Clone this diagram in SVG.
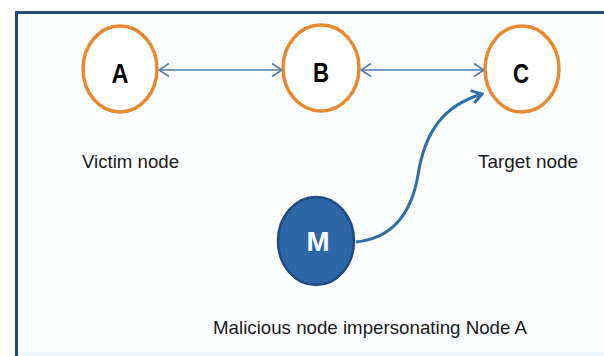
<svg xmlns="http://www.w3.org/2000/svg" width="604" height="356" viewBox="0 0 604 356">
  <defs>
    <marker id="chev" viewBox="0 0 12 14" refX="11" refY="7" markerWidth="12" markerHeight="14" markerUnits="userSpaceOnUse" orient="auto-start-reverse">
      <path d="M1,0.5 L11,7 L1,13.5" fill="none" stroke="#4a7db3" stroke-width="1.7"/>
    </marker>
    <marker id="chevBold" viewBox="0 0 14 16" refX="12" refY="8" markerWidth="14" markerHeight="16" markerUnits="userSpaceOnUse" orient="auto">
      <path d="M2,1.5 L12,8 L2,14.5" fill="none" stroke="#2f6eab" stroke-width="3"/>
    </marker>
  </defs>
  <style>
    .peer { fill: #ffffff; stroke: #e8892f; stroke-width: 3.5; }
    .rogue { fill: #2e67a8; stroke: #1f4b80; stroke-width: 2.5; }
    .letter { font-family: "Liberation Sans", Arial, sans-serif; font-weight: bold; font-size: 28px; text-anchor: middle; }
    .label { font-family: "Liberation Sans", Arial, sans-serif; font-size: 19px; fill: #1a1a1a; }
    .link { fill: none; stroke: #4a7db3; stroke-width: 1.7; }
    .attack { fill: none; stroke: #2f6eab; stroke-width: 3; }
  </style>

  <!-- page background and frame -->
  <rect x="0" y="0" width="604" height="356" fill="#ffffff"/>
  <rect x="16.5" y="12.5" width="600" height="360" fill="#fbfdfe" stroke="#23497f" stroke-width="3"/>
  <rect x="18" y="352" width="586" height="4" fill="#eef4f8"/>

  <!-- connectors -->
  <g id="connectors">
    <line class="link" x1="159" y1="70" x2="282" y2="70" marker-start="url(#chev)" marker-end="url(#chev)"/>
    <line class="link" x1="361" y1="70" x2="484" y2="70" marker-start="url(#chev)" marker-end="url(#chev)"/>
    <path class="attack" d="M356,242 C395,238 412,210 418,175 C425,130 445,105 482,94" marker-end="url(#chevBold)"/>
  </g>

  <g id="node-a">
    <ellipse class="peer" cx="120" cy="69" rx="37" ry="43"/>
    <text class="letter" x="120" y="83" textLength="17" lengthAdjust="spacingAndGlyphs">A</text>
  </g>
  <g id="node-b">
    <ellipse class="peer" cx="321" cy="68" rx="38" ry="43"/>
    <text class="letter" x="321" y="82" textLength="16" lengthAdjust="spacingAndGlyphs">B</text>
  </g>
  <g id="node-c">
    <ellipse class="peer" cx="522" cy="69" rx="37" ry="43"/>
    <text class="letter" x="521" y="83" textLength="16" lengthAdjust="spacingAndGlyphs">C</text>
  </g>
  <g id="node-m">
    <ellipse class="rogue" cx="316" cy="241" rx="38" ry="44"/>
    <text class="letter" x="318" y="251" fill="#ffffff" textLength="23" lengthAdjust="spacingAndGlyphs">M</text>
  </g>

  <!-- captions -->
  <text class="label" x="82" y="168" textLength="97" lengthAdjust="spacingAndGlyphs">Victim node</text>
  <text class="label" x="478" y="168" textLength="100" lengthAdjust="spacingAndGlyphs">Target node</text>
  <text class="label" x="213" y="334" textLength="314" lengthAdjust="spacingAndGlyphs">Malicious node impersonating Node A</text>
</svg>
